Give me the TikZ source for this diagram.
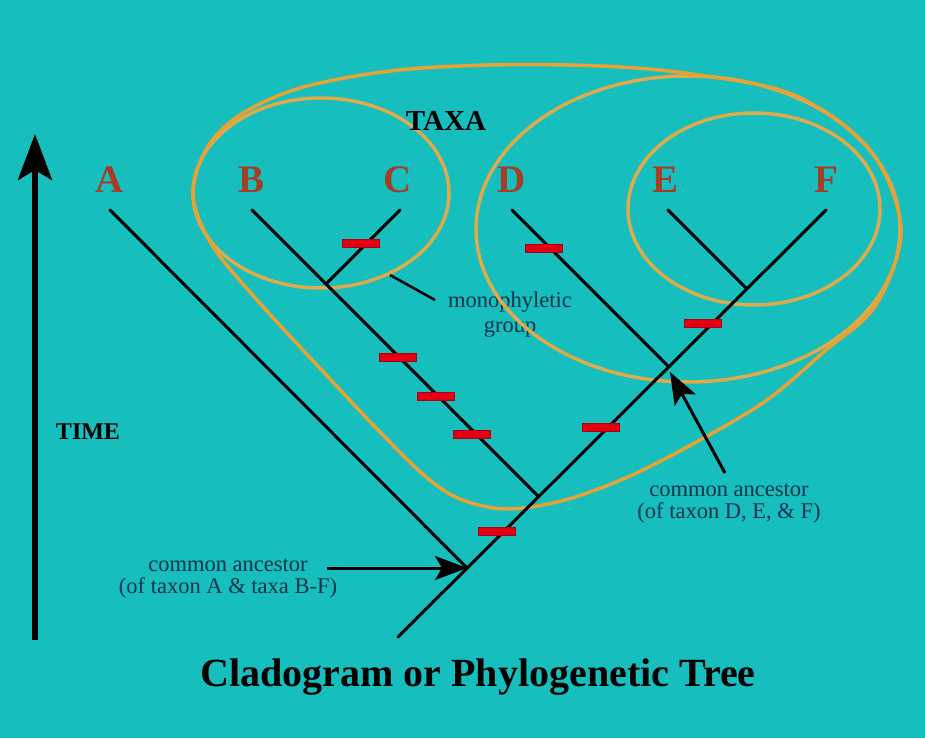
\documentclass[tikz,border=0pt]{standalone}
\usepackage{fontspec}
\setmainfont{Liberation Serif}
\usetikzlibrary{arrows.meta}
\definecolor{bg}{RGB}{22,190,190}
\definecolor{ring}{RGB}{220,172,76}
\definecolor{ringo}{RGB}{230,162,52}
\definecolor{taxon}{RGB}{165,62,38}
\definecolor{barred}{RGB}{228,0,18}
\definecolor{note}{RGB}{12,52,72}
\begin{document}
\begin{tikzpicture}[x=1pt,y=-1pt,
  branch/.style={line width=3pt, line cap=round},
  ringline/.style={draw=ring, line width=3.5pt},
  taxonlbl/.style={text=taxon, font=\fontsize{39}{39}\selectfont\bfseries, inner sep=0pt},
  notelbl/.style={text=note, font=\fontsize{22.5}{22}\selectfont, align=center, inner sep=0pt},
  bar/.style={fill=barred, draw=barred!75!black, line width=0.5pt, minimum width=37pt, minimum height=8pt, inner sep=0pt},
  pointer/.style={line width=3pt, -{Stealth[length=32pt,width=24pt,inset=7pt]}},
]
\useasboundingbox (0,0) rectangle (925,738);
\fill[bg] (0,0) rectangle (925,738);

% monophyletic label (below rings)
\node[notelbl, font=\fontsize{22.5}{25}\selectfont] (mono) at (510,315) {monophyletic\\group};

% rings
\draw[ringline] (321,193) ellipse [x radius=128pt, y radius=95pt];
\draw[ringline] (754,209) ellipse [x radius=126pt, y radius=96pt];
\draw[ringline] (688,229) ellipse [x radius=212pt, y radius=153pt];
\draw[ringline, draw=ringo] plot[smooth cycle, tension=0.55] coordinates {
 (193,195) (207,148) (240,115) (300,88) (390,71) (490,65) (600,66) (692,74)
 (794,95) (870,150) (901,229) (876,305) (826,350) (767,400) (700,440)
 (630,476) (565,500) (507,509) (460,499) (425,476) (380,432) (330,379)
 (257,300) (212,245)};

% tree
\coordinate (root) at (398,637);
\coordinate (tA) at (110,210);
\coordinate (tB) at (252,210);
\coordinate (tC) at (400,210);
\coordinate (tD) at (512,210);
\coordinate (tE) at (668,210);
\coordinate (tF) at (826,210);
\coordinate (jA) at (467,568);
\coordinate (jB) at (538.5,496.5);
\coordinate (jC) at (326,284);
\coordinate (jD) at (668.5,366.5);
\coordinate (jE) at (746.5,288.5);
\draw[branch] (root) -- (tF);
\draw[branch] (tA) -- (jA);
\draw[branch] (tB) -- (jB);
\draw[branch] (tC) -- (jC);
\draw[branch] (tD) -- (jD);
\draw[branch] (tE) -- (jE);

% character marks
\node[bar] (m1) at (361,243) {};
\node[bar] (m2) at (544,248) {};
\node[bar] (m3) at (398,357) {};
\node[bar] (m4) at (436,396) {};
\node[bar] (m5) at (472,434) {};
\node[bar] (m6) at (703,323) {};
\node[bar] (m7) at (601,427) {};
\node[bar] (m8) at (497,531) {};

% taxa labels
\node[taxonlbl] (lA) at (110,180) {A};
\node[taxonlbl] (lB) at (252,180) {B};
\node[taxonlbl] (lC) at (398,180) {C};
\node[taxonlbl] (lD) at (512,180) {D};
\node[taxonlbl] (lE) at (665,180) {E};
\node[taxonlbl] (lF) at (826,180) {F};
\node[font=\fontsize{29}{29}\selectfont\bfseries, inner sep=0pt] (taxa) at (446,121) {TAXA};

% time axis
\coordinate (tbot) at (35,640);
\coordinate (ttop) at (35,134);
\draw[line width=6pt, -{Stealth[length=46pt,width=34pt,inset=10pt]}] (tbot) -- (ttop);
\node[font=\fontsize{24}{24}\selectfont\bfseries, inner sep=0pt] (time) at (88,432) {TIME};

% monophyletic pointer
\coordinate (mp1) at (390,275);
\coordinate (mp2) at (435,300);
\draw[line width=2.5pt] (mp1) -- (mp2);

% common ancestor notes
\node[notelbl] (ca1) at (228,579) {common ancestor\\(of taxon A \& taxa B-F)};
\coordinate (ca1s) at (327,568);
\draw[pointer] (ca1s) -- (jA);

\node[notelbl] (ca2) at (729,504) {common ancestor\\(of taxon D, E, \& F)};
\coordinate (ca2s) at (725,473);
\coordinate (ca2t) at (670,372);
\draw[pointer] (ca2s) -- (ca2t);

% title
\node[font=\fontsize{40}{40}\selectfont\bfseries, inner sep=0pt] (title) at (478,677) {Cladogram or Phylogenetic Tree};
\end{tikzpicture}
\end{document}
